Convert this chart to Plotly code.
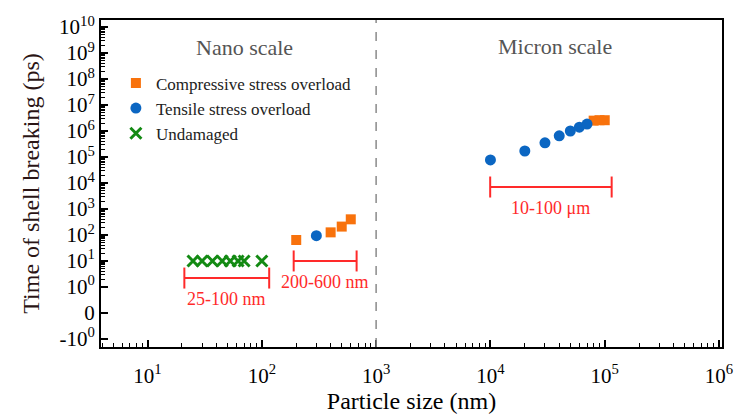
import math
import plotly.graph_objects as go

# ---------------- data ----------------
undamaged_size = [25, 30, 37, 45, 53, 62, 70, 100]
undamaged_time = [10, 10, 10, 10, 10, 10, 10, 10]

compressive_size = [200, 400, 500, 600, 80000, 90000, 100000]
compressive_time = [64, 126, 210, 400, 2.5e6, 2.6e6, 2.6e6]

tensile_size = [300, 10000, 20000, 30000, 40000, 50000, 60000, 70000]
tensile_time = [94, 7.7e4, 1.7e5, 3.5e5, 6.5e5, 1.0e6, 1.4e6, 1.85e6]

bracket_labels = ["25-100 nm", "200-600 nm", "10-100 μm"]
bracket_lo = [21, 190, 9950]
bracket_hi = [116, 675, 115000]
bracket_time = [2.2, 10, 7000]

y_tick_values = [1e10, 1e9, 1e8, 1e7, 1e6, 1e5, 1e4, 1e3, 1e2, 1e1, 1e0, 0, -1]
y_tick_text = ["10<sup>10</sup>", "10<sup>9</sup>", "10<sup>8</sup>", "10<sup>7</sup>",
               "10<sup>6</sup>", "10<sup>5</sup>", "10<sup>4</sup>", "10<sup>3</sup>",
               "10<sup>2</sup>", "10<sup>1</sup>", "10<sup>0</sup>", "0", "-10<sup>0</sup>"]
x_tick_values = [1e1, 1e2, 1e3, 1e4, 1e5, 1e6]
x_tick_text = ["10<sup>1</sup>", "10<sup>2</sup>", "10<sup>3</sup>", "10<sup>4</sup>",
               "10<sup>5</sup>", "10<sup>6</sup>"]
divider_size = 1000


# symmetric-log style mapping used by the original y axis
def ypos(v):
    if v >= 1:
        return math.log10(v)
    if v == 0:
        return -1.0
    return -2.0


FONT = "'Liberation Serif', 'Times New Roman', 'DejaVu Serif', serif"
ORANGE = "#F8720C"
BLUE = "#0B66C2"
GREEN = "#138A13"
RED = "#FF2A2A"

fig = go.Figure()

fig.add_trace(go.Scatter(
    x=compressive_size, y=[ypos(v) for v in compressive_time], mode="markers",
    name="Compressive stress overload",
    marker=dict(symbol="square", size=10, color=ORANGE)))
fig.add_trace(go.Scatter(
    x=tensile_size, y=[ypos(v) for v in tensile_time], mode="markers",
    name="Tensile stress overload",
    marker=dict(symbol="circle", size=11, color=BLUE)))
fig.add_trace(go.Scatter(
    x=undamaged_size, y=[ypos(v) for v in undamaged_time], mode="markers",
    name="Undamaged",
    marker=dict(symbol="x-thin", size=11, color=GREEN, line=dict(width=3, color=GREEN))))

# brackets
for lab, lo, hi, t in zip(bracket_labels, bracket_lo, bracket_hi, bracket_time):
    yp = ypos(t)
    fig.add_trace(go.Scatter(
        x=[lo, hi], y=[yp, yp], mode="lines+markers", showlegend=False,
        line=dict(color=RED, width=2),
        marker=dict(symbol="line-ns-open", size=15, color=RED, line=dict(width=2, color=RED))))
    fig.add_annotation(x=math.log10(math.sqrt(lo * hi)), y=yp, text=lab, showarrow=False,
                       xanchor="center", yanchor="middle",
                       yshift=-21, font=dict(family=FONT, size=18, color=RED))

# divider
fig.add_shape(type="line", x0=divider_size, x1=divider_size, xref="x", y0=0, y1=1, yref="paper",
              line=dict(color="#8a8a8a", width=1.5, dash="dash"))

fig.add_annotation(x=0.231, y=0.917, xref="paper", yref="paper", text="Nano scale",
                   xanchor="center", yanchor="middle",
                   showarrow=False, font=dict(family=FONT, size=22, color="#555555"))
fig.add_annotation(x=0.731, y=0.92, xref="paper", yref="paper", text="Micron scale",
                   xanchor="center", yanchor="middle",
                   showarrow=False, font=dict(family=FONT, size=22, color="#555555"))

x_minor = [m * 10 ** k for k in range(0, 6) for m in range(2, 10)]
y_minor = [k + math.log10(m) for k in range(0, 10) for m in range(2, 10)]

fig.update_layout(
    width=736, height=416,
    margin=dict(l=101, r=14, t=20, b=69, autoexpand=False),
    plot_bgcolor="white", paper_bgcolor="white",
    font=dict(family=FONT, color="black"),
    showlegend=True,
    legend=dict(x=0.024, y=0.861, xanchor="left", yanchor="top",
                bgcolor="rgba(0,0,0,0)", font=dict(family=FONT, size=17, color="#222"),
                itemsizing="trace", tracegroupgap=0, itemwidth=30),
)

fig.update_xaxes(
    type="log", range=[0.593, 6.026], automargin=False,
    tickmode="array", tickvals=x_tick_values, ticktext=x_tick_text,
    ticks="inside", ticklen=7, tickwidth=1.5, tickcolor="black", ticklabelstandoff=9,
    ticklabeloverflow="allow",
    minor=dict(ticks="inside", ticklen=4, tickwidth=1.2, tickcolor="black", tickvals=x_minor, showgrid=False),
    showline=True, linecolor="black", linewidth=2, mirror=True,
    showgrid=False, zeroline=False,
    tickfont=dict(family=FONT, size=21, color="black"),
    title=dict(text="Particle size (nm)", font=dict(family=FONT, size=24, color="black"), standoff=2),
)
fig.update_yaxes(
    range=[-2.31, 10.27], automargin=False,
    tickmode="array", tickvals=[ypos(v) for v in y_tick_values], ticktext=y_tick_text,
    ticks="inside", ticklen=7, tickwidth=1.5, tickcolor="black",
    minor=dict(ticks="inside", ticklen=4, tickwidth=1.2, tickcolor="black", tickvals=y_minor, showgrid=False),
    showline=True, linecolor="black", linewidth=2, mirror=True,
    showgrid=False, zeroline=False,
    tickfont=dict(family=FONT, size=21, color="black"),
    title=dict(text="Time of shell breaking (ps)", font=dict(family=FONT, size=24, color="#2a1414"), standoff=13),
)

fig.write_html("out.html")
